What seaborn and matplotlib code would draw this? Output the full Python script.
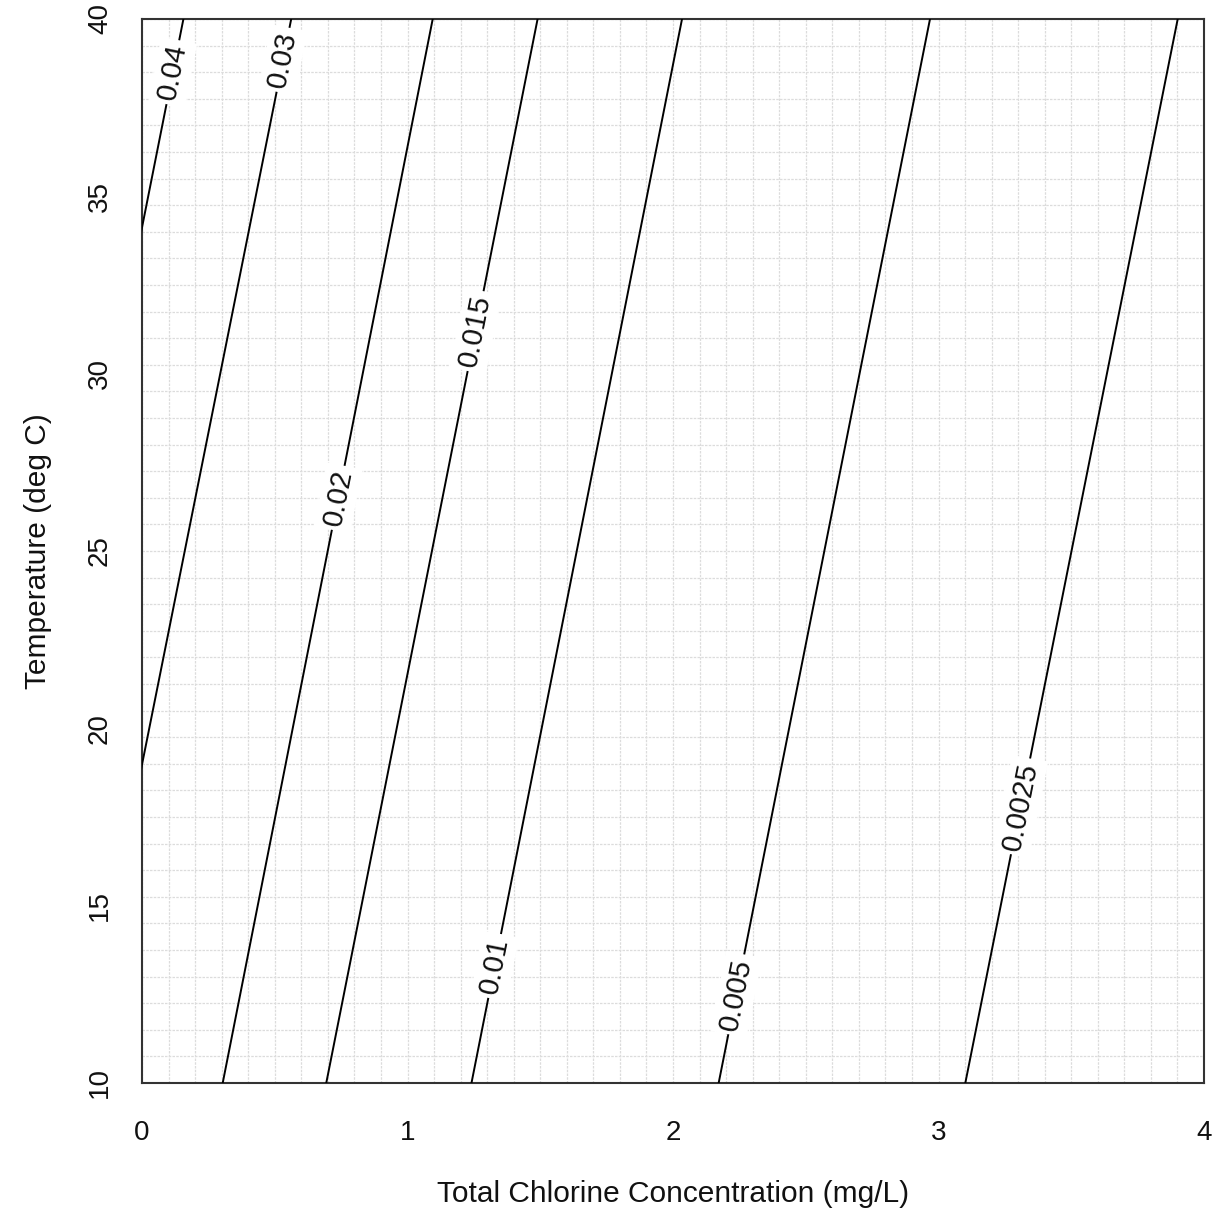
import numpy as np
import pandas as pd
import matplotlib
matplotlib.use("Agg")
import matplotlib.pyplot as plt
import seaborn as sns

# Contour levels of the decay coefficient and where each line meets 10 and 40 deg C
levels = [0.04, 0.03, 0.02, 0.015, 0.01, 0.005, 0.0025]
level_labels = ["0.04", "0.03", "0.02", "0.015", "0.01", "0.005", "0.0025"]
chlorine_at_10C = [-0.64, -0.24, 0.304, 0.694, 1.241, 2.172, 3.101]
chlorine_at_40C = [0.156, 0.562, 1.095, 1.490, 2.034, 2.968, 3.901]
# Temperature at which each contour carries its inline label
label_temp = [38.5, 38.85, 26.5, 31.2, 13.3, 12.5, 17.8]

x_ticks = [0, 1, 2, 3, 4]
y_ticks = [10, 15, 20, 25, 30, 35, 40]
x_range = (0, 4)
y_range = (10, 40)

rows = []
for lev, x10, x40 in zip(levels, chlorine_at_10C, chlorine_at_40C):
    rows.append({"level": lev, "chlorine": x10, "temp": 10.0})
    rows.append({"level": lev, "chlorine": x40, "temp": 40.0})
df = pd.DataFrame(rows)

sns.set_theme(style="white")
plt.rcParams["font.family"] = ["Liberation Sans", "DejaVu Sans"]

fig = plt.figure(figsize=(12.18, 12.09), dpi=100)
ax = fig.add_axes([142 / 1218, 1 - 1083 / 1209, (1204 - 142) / 1218, (1083 - 19) / 1209])

sns.lineplot(data=df, x="chlorine", y="temp", units="level", estimator=None,
             sort=False, color="black", linewidth=1.4, legend=False, ax=ax, zorder=3)

ax.set_xlim(*x_range)
ax.set_ylim(*y_range)
ax.set_xticks(x_ticks)
ax.set_yticks(y_ticks)
ax.set_xticklabels([str(t) for t in x_ticks])
ax.set_yticklabels([str(t) for t in y_ticks])

# fine reference grid: 40 divisions in each direction
ax.set_xticks(np.linspace(x_range[0], x_range[1], 41), minor=True)
ax.set_yticks(np.linspace(y_range[0], y_range[1], 41), minor=True)
ax.xaxis.remove_overlapping_locs = False
ax.yaxis.remove_overlapping_locs = False
ax.grid(False, which="major")
ax.grid(True, which="minor", color="#dcdcdc", linestyle=(0, (2.0, 1.0)), linewidth=0.9)
ax.set_axisbelow(True)

ax.tick_params(which="minor", length=0)
ax.tick_params(which="major", direction="out", length=10.8, width=1.2, color="#333333",
               labelsize=20, labelcolor="#111111")
ax.tick_params(axis="x", which="major", pad=16)
ax.tick_params(axis="y", which="major", pad=10)
for lab in ax.get_yticklabels():
    lab.set_rotation(90)
    lab.set_va("center")
    lab.set_ha("right")

for side in ["left", "right", "top", "bottom"]:
    ax.spines[side].set_visible(True)
    ax.spines[side].set_color("#333333")
    ax.spines[side].set_linewidth(1.5)

ax.set_xlabel("Total Chlorine Concentration (mg/L)", fontsize=21.5, color="#111111", labelpad=24)
ax.set_ylabel("Temperature (deg C)", fontsize=21.5, color="#111111", labelpad=25)

# inline contour labels, rotated along each line
fig.canvas.draw()
for lab, x10, x40, ty in zip(level_labels, chlorine_at_10C, chlorine_at_40C, label_temp):
    lx = x10 + (ty - 10.0) * (x40 - x10) / 30.0
    p0 = ax.transData.transform((x10, 10.0))
    p1 = ax.transData.transform((x40, 40.0))
    ang = np.degrees(np.arctan2(p1[1] - p0[1], p1[0] - p0[0]))
    ax.text(lx, ty, lab, rotation=ang, rotation_mode="anchor", ha="center", va="center",
            fontsize=21, color="#111111", zorder=5,
            bbox=dict(boxstyle="square,pad=0.15", facecolor="white", edgecolor="none"))

fig.savefig("out.png", dpi=100, facecolor="white")
